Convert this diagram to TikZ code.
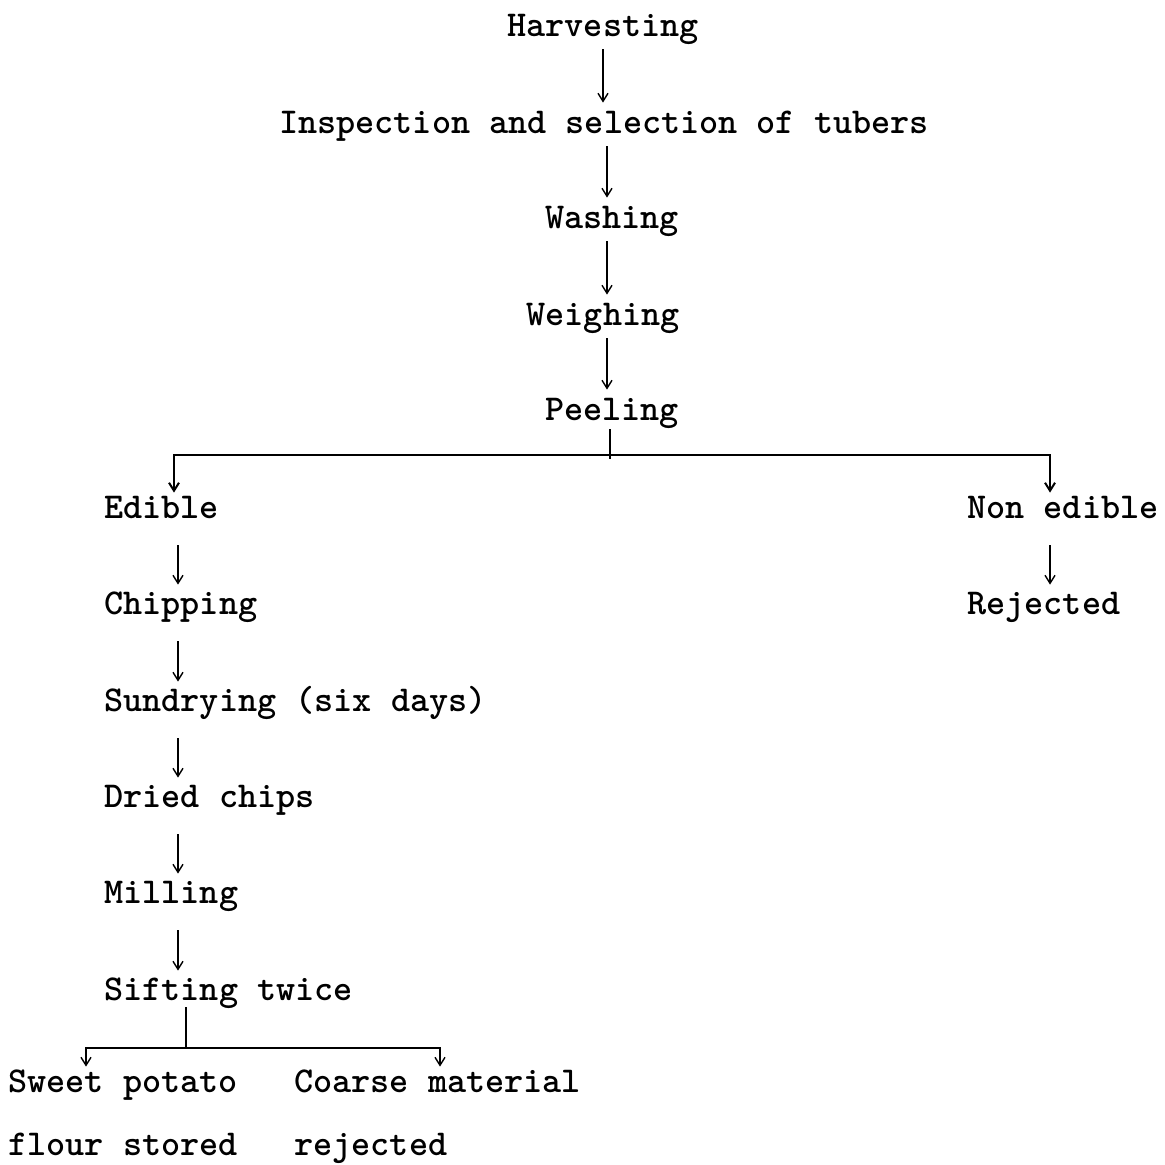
\documentclass[tikz,border=0pt]{standalone}
\usetikzlibrary{arrows.meta}

\begin{document}
\begin{tikzpicture}[x=0.5pt, y=-0.5pt,
    stage/.style={inner sep=0pt, font={\ttfamily\bfseries\fontsize{18.2}{20}\selectfont},
                  text height=11pt, text depth=3.5pt},
    arr/.style={-{Straight Barb[length=4pt,width=5pt]}, line width=0.7pt,
                shorten <=3pt, shorten >=4pt},
    down/.style={arr, shorten <=10pt, shorten >=3.5pt},
    branch/.style={arr, shorten <=0pt, shorten >=1.5pt}]
    \useasboundingbox (0,0) rectangle (1165,1164);

    % main line
    \node[stage, anchor=base] (harv)  at (603,36)  {Harvesting};
    \node[stage, anchor=base] (insp)  at (604,133) {Inspection and selection of tubers};
    \node[stage, anchor=base] (wash)  at (612,228) {Washing};
    \node[stage, anchor=base] (weigh) at (603,325) {Weighing};
    \node[stage, anchor=base] (peel)  at (612,420) {Peeling};

    \coordinate (spine) at (607,0);
    \draw[arr] (harv.south) -- (harv.south |- insp.north);
    \draw[arr] (insp.south -| spine) -- (wash.north -| spine);
    \draw[arr] (wash.south -| spine) -- (weigh.north -| spine);
    \draw[arr] (weigh.south -| spine) -- (peel.north -| spine);

    % split after peeling
    \node[stage, anchor=base west] (edible)   at (104,518) {Edible};
    \node[stage, anchor=base west] (nonedib)  at (967,518) {Non edible};
    \node[stage, anchor=base west] (rejected) at (967,614) {Rejected};

    \coordinate (split) at (610,455);
    \coordinate (lsplit) at (174,455);
    \coordinate (rsplit) at (1050,455);
    \draw[line width=0.8pt] ([yshift=-1pt]peel.south -| split) -- ([yshift=-2pt]split);
    \draw[branch, line width=1pt] (split) -| (edible.north -| lsplit);
    \draw[branch, line width=1pt] (split) -| (nonedib.north -| rsplit);
    \draw[down] (nonedib.south -| rsplit) -- (rejected.north -| rsplit);

    % edible part
    \node[stage, anchor=base west] (chip)  at (104,614)  {Chipping};
    \node[stage, anchor=base west] (sun)   at (104,711)  {Sundrying (six days)};
    \node[stage, anchor=base west] (dried) at (104,807)  {Dried chips};
    \node[stage, anchor=base west] (mill)  at (104,903)  {Milling};
    \node[stage, anchor=base west] (sift)  at (104,1000) {Sifting twice};

    \coordinate (lspine) at (178,0);
    \draw[down] (edible.south -| lspine) -- (chip.north -| lspine);
    \draw[down] (chip.south -| lspine) -- (sun.north -| lspine);
    \draw[down] (sun.south -| lspine) -- (dried.north -| lspine);
    \draw[down] (dried.south -| lspine) -- (mill.north -| lspine);
    \draw[down] (mill.south -| lspine) -- (sift.north -| lspine);

    % sifting products
    \node[stage, anchor=base west] (flour)   at (8,1092)   {Sweet potato};
    \node[stage, anchor=base west] (flourb)  at (8,1155)   {flour stored};
    \node[stage, anchor=base west] (coarse)  at (294,1092) {Coarse material};
    \node[stage, anchor=base west] (coarseb) at (294,1155) {rejected};

    \coordinate (ssplit) at (186,1048);
    \coordinate (sleft) at (86,1048);
    \coordinate (sright) at (440,1048);
    \draw[line width=0.7pt] (sift.south -| ssplit) -- (ssplit);
    \draw[branch] (ssplit) -| (flour.north -| sleft);
    \draw[branch] (ssplit) -| (coarse.north -| sright);
\end{tikzpicture}
\end{document}
